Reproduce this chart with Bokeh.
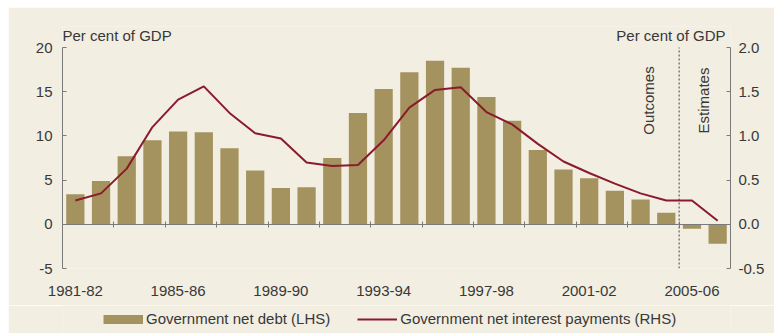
import math
from bokeh.plotting import figure
from bokeh.layouts import row, column, Spacer
from bokeh.models import (Range1d, LinearAxis, FixedTicker, NumeralTickFormatter,
                          Label, Legend, LegendItem, ColumnDataSource)
from bokeh.embed import file_html
from bokeh.resources import INLINE

# ---- data ----
years = ["1981-82", "1982-83", "1983-84", "1984-85", "1985-86", "1986-87",
         "1987-88", "1988-89", "1989-90", "1990-91", "1991-92", "1992-93",
         "1993-94", "1994-95", "1995-96", "1996-97", "1997-98", "1998-99",
         "1999-00", "2000-01", "2001-02", "2002-03", "2003-04", "2004-05",
         "2005-06", "2006-07"]
net_debt = [3.4, 4.9, 7.7, 9.5, 10.5, 10.4, 8.6, 6.1, 4.1, 4.2, 7.5, 12.6,
            15.3, 17.2, 18.5, 17.7, 14.4, 11.7, 8.4, 6.2, 5.2, 3.8, 2.8, 1.3,
            -0.5, -2.2]
net_interest = [0.27, 0.35, 0.63, 1.10, 1.41, 1.56, 1.26, 1.03, 0.97, 0.70,
                0.66, 0.67, 0.95, 1.32, 1.52, 1.55, 1.27, 1.13, 0.91, 0.71,
                0.58, 0.46, 0.35, 0.27, 0.27, 0.04]
lhs_ticks = [-5, 0, 5, 10, 15, 20]
rhs_ticks = [-0.5, 0.0, 0.5, 1.0, 1.5, 2.0]
label_years = ["1981-82", "1985-86", "1989-90", "1993-94", "1997-98",
               "2001-02", "2005-06"]
first_estimate = "2005-06"
lhs_title = "Per cent of GDP"
rhs_title = "Per cent of GDP"
debt_label = "Government net debt (LHS)"
interest_label = "Government net interest payments (RHS)"

# ---- styles / layout ----
BG = "#f2eee2"
BAR = "#a5935f"
LINE = "#8a1a2c"
AXIS = "#7a7a7a"
TXT = "#383838"
FONT = "Liberation Sans"
FS = "15px"

W, H = 766, 298
BL, BR, BB = 54, 44, 37
AXIS_PX = 221          # pixel height of the -5..20 axis span
PAD_TOP_PX = 21        # extra room in frame above the axes for the titles
BT = 40 - PAD_TOP_PX
LEG_H = 28

lhs_lo, lhs_hi = lhs_ticks[0], lhs_ticks[-1]
rhs_lo, rhs_hi = rhs_ticks[0], rhs_ticks[-1]
lhs_ext = (lhs_hi - lhs_lo) * PAD_TOP_PX / AXIS_PX
rhs_ext = (rhs_hi - rhs_lo) * PAD_TOP_PX / AXIS_PX

x = list(range(len(years)))
src = ColumnDataSource(dict(x=x, debt=net_debt, interest=net_interest))

p = figure(width=W, height=H,
           x_range=Range1d(-0.5, len(years) - 0.5),
           y_range=Range1d(lhs_lo, lhs_hi + lhs_ext),
           output_backend="svg", toolbar_location=None,
           background_fill_color=BG, border_fill_color=BG,
           outline_line_color=None,
           min_border_left=BL, min_border_right=BR,
           min_border_top=BT, min_border_bottom=BB)
p.grid.visible = False
p.extra_y_ranges = {"rhs": Range1d(rhs_lo, rhs_hi + rhs_ext)}

# left axis
ya = p.yaxis[0]
ya.ticker = FixedTicker(ticks=lhs_ticks)
ya.formatter = NumeralTickFormatter(format="0")
ya.bounds = (lhs_lo, lhs_hi)
ya.axis_line_color = AXIS
ya.major_tick_line_color = AXIS
ya.major_tick_in = 4
ya.major_tick_out = 0
ya.minor_tick_line_color = None
ya.major_label_standoff = 10
ya.major_label_text_font = FONT
ya.major_label_text_font_size = FS
ya.major_label_text_color = TXT

# right axis
ra = LinearAxis(y_range_name="rhs", ticker=FixedTicker(ticks=rhs_ticks),
                formatter=NumeralTickFormatter(format="0.0"))
ra.bounds = (rhs_lo, rhs_hi)
ra.axis_line_color = AXIS
ra.major_tick_line_color = AXIS
ra.major_tick_in = 4
ra.major_tick_out = 0
ra.minor_tick_line_color = None
ra.major_label_standoff = 8
ra.major_label_text_font = FONT
ra.major_label_text_font_size = FS
ra.major_label_text_color = TXT
p.add_layout(ra, "right")

# bottom axis: labels only
xa = p.xaxis[0]
label_idx = [years.index(y) for y in label_years]
xa.ticker = FixedTicker(ticks=label_idx)
xa.major_label_overrides = {i: years[i] for i in label_idx}
xa.axis_line_color = None
xa.major_tick_line_color = None
xa.minor_tick_line_color = None
xa.major_tick_in = 0
xa.major_tick_out = 0
xa.major_label_standoff = 17
xa.major_label_text_font = FONT
xa.major_label_text_font_size = FS
xa.major_label_text_color = TXT

# zero-line axis with boundary ticks
boundaries = [i + 0.5 for i in range(1, len(years) - 1, 2)]
za = LinearAxis(ticker=FixedTicker(ticks=boundaries), fixed_location=0)
za.axis_line_color = AXIS
za.major_tick_line_color = AXIS
za.major_tick_in = 3
za.major_tick_out = 3
za.minor_tick_line_color = None
za.major_label_text_font_size = "0px"
za.major_label_standoff = 0
p.add_layout(za, "above")

p.vbar(x="x", top="debt", bottom=0, width=0.71, source=src,
       fill_color=BAR, line_color=None)
p.line(x="x", y="interest", source=src, y_range_name="rhs",
       line_color=LINE, line_width=2)

split = years.index(first_estimate) - 0.5
p.segment(x0=[split], y0=[lhs_lo], x1=[split], y1=[lhs_hi],
          line_color="#444444", line_width=1, line_dash="2 2")

for txt, dx in (("Outcomes", -1.2), ("Estimates", 0.95)):
    p.add_layout(Label(x=split + dx, y=14, text=txt, angle=math.pi / 2,
                       text_align="center", text_baseline="middle",
                       text_font=FONT, text_font_size=FS, text_color=TXT))

p.add_layout(Label(x=-0.5, y=lhs_hi, y_offset=12, text=lhs_title,
                   text_align="left", text_baseline="alphabetic",
                   text_font=FONT, text_font_size=FS, text_color=TXT))
p.add_layout(Label(x=len(years) - 0.5, y=lhs_hi, x_offset=-5, y_offset=12,
                   text=rhs_title, text_align="right", text_baseline="alphabetic",
                   text_font=FONT, text_font_size=FS, text_color=TXT))

# ---- legend strip (separate small figure; frame aligns with the chart) ----
lf = figure(width=W, height=LEG_H, x_range=Range1d(0, 1), y_range=Range1d(0, 1),
            output_backend="svg", toolbar_location=None,
            x_axis_type=None, y_axis_type=None,
            background_fill_color=BG, border_fill_color=BG,
            outline_line_color=None,
            min_border_left=0, min_border_right=0,
            min_border_top=0, min_border_bottom=0)
lf.grid.visible = False
nan = float("nan")
lbar = lf.line(x=[nan, nan], y=[nan, nan], line_color=BAR, line_width=9,
               line_cap="butt")
lline = lf.line(x=[nan, nan], y=[nan, nan], line_color=LINE, line_width=2)
legend = Legend(items=[LegendItem(label=debt_label, renderers=[lbar]),
                       LegendItem(label=interest_label, renderers=[lline])],
                orientation="horizontal", location=(41, 6),
                background_fill_alpha=0, border_line_color=None,
                padding=0, margin=0, spacing=27,
                glyph_width=40, glyph_height=10, label_standoff=3,
                label_height=16,
                label_text_font=FONT, label_text_font_size=FS,
                label_text_color=TXT)
lf.add_layout(legend)

layout = row(Spacer(width=8), column(Spacer(height=7), p, lf))

open("out.html", "w").write(file_html(layout, INLINE))
